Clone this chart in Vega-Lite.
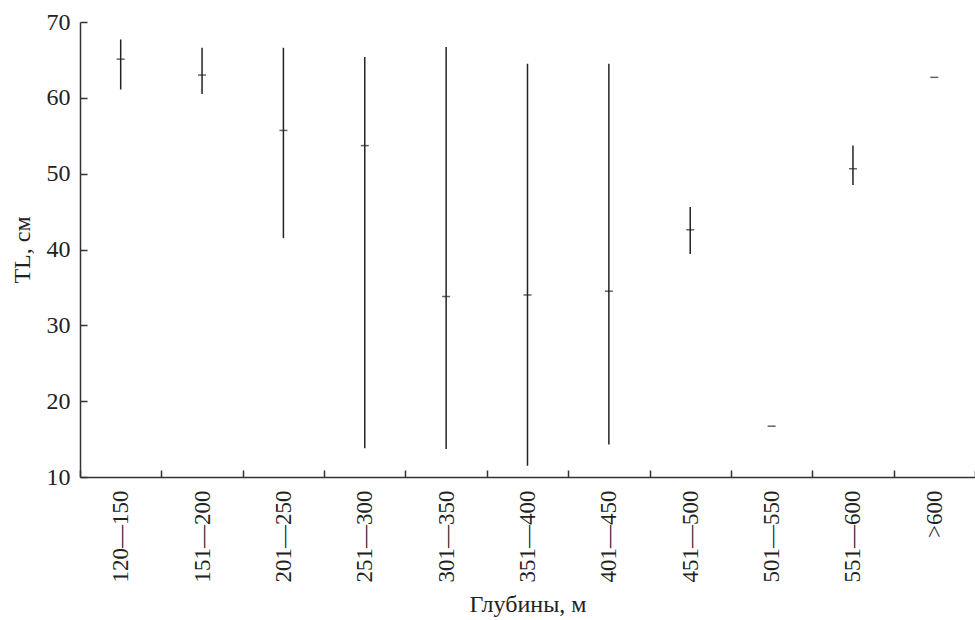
{
  "$schema": "https://vega.github.io/schema/vega-lite/v6.json",
  "width": 895,
  "height": 455,
  "autosize": {"type": "none"},
  "padding": {"left": 80, "top": 22, "right": 0, "bottom": 143},
  "background": "white",
  "config": {
    "view": {"stroke": null},
    "font": "Liberation Serif",
    "axis": {
      "labelFont": "Liberation Serif",
      "titleFont": "Liberation Serif",
      "labelColor": "#222",
      "titleColor": "#222",
      "labelFontWeight": "normal",
      "titleFontWeight": "normal",
      "domainColor": "#333",
      "tickColor": "#333",
      "domainWidth": 1.5,
      "tickWidth": 1.5,
      "grid": false
    }
  },
  "data": {
    "values": [
      {"depth": "120—150", "min": 61.1, "max": 67.7, "mean": 65.1},
      {"depth": "151—200", "min": 60.5, "max": 66.6, "mean": 63.0},
      {"depth": "201—250", "min": 41.5, "max": 66.6, "mean": 55.7},
      {"depth": "251—300", "min": 13.8, "max": 65.4, "mean": 53.7},
      {"depth": "301—350", "min": 13.7, "max": 66.7, "mean": 33.8},
      {"depth": "351—400", "min": 11.5, "max": 64.5, "mean": 34.0},
      {"depth": "401—450", "min": 14.3, "max": 64.5, "mean": 34.5},
      {"depth": "451—500", "min": 39.4, "max": 45.6, "mean": 42.6},
      {"depth": "501—550", "min": null, "max": null, "mean": 16.7},
      {"depth": "551—600", "min": 48.5, "max": 53.7, "mean": 50.65},
      {"depth": ">600", "min": null, "max": null, "mean": 62.7}
    ]
  },
  "encoding": {
    "x": {
      "field": "depth",
      "type": "nominal",
      "sort": ["120—150", "151—200", "201—250", "251—300", "301—350", "351—400", "401—450", "451—500", "501—550", "551—600", ">600"],
      "scale": {"paddingInner": 0, "paddingOuter": 0},
      "axis": {
        "title": "Глубины, м",
        "titleFontSize": 24,
        "titlePadding": 10,
        "labelFontSize": 23,
        "labelAngle": 270,
        "tickBand": "extent",
        "tickSize": -7,
        "labelPadding": 20
      }
    }
  },
  "layer": [
    {
      "transform": [{"filter": "datum.min != null"}],
      "mark": {"type": "rule", "color": "#222", "strokeWidth": 1.5},
      "encoding": {
        "y": {
          "field": "min",
          "type": "quantitative",
          "scale": {"domain": [10, 70], "nice": false, "zero": false},
          "axis": {
            "title": "TL, см",
            "titleFontSize": 24,
            "titlePadding": 12,
            "labelFontSize": 24,
            "values": [10, 20, 30, 40, 50, 60, 70],
            "tickSize": -7,
            "labelPadding": 17
          }
        },
        "y2": {"field": "max"}
      }
    },
    {
      "mark": {"type": "tick", "color": "#222", "size": 8, "thickness": 1.5, "orient": "horizontal"},
      "encoding": {
        "y": {"field": "mean", "type": "quantitative"}
      }
    }
  ]
}
